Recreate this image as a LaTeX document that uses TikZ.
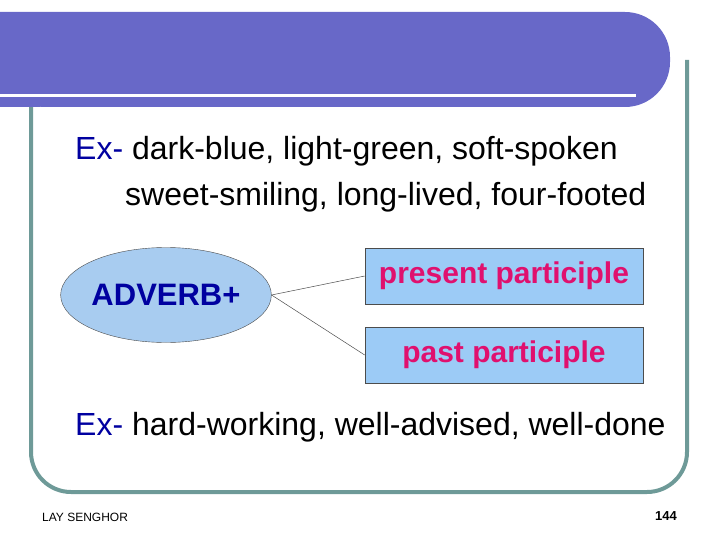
\documentclass[tikz,border=0pt]{standalone}
\usepackage{fontspec}
\usetikzlibrary{shapes.geometric}
\setmainfont{Liberation Sans}
\begin{document}
\begin{tikzpicture}[x=1pt,y=-1pt,
  box/.style={draw=black!70,fill=lb,line width=0.6pt,minimum width=278pt,minimum height=56pt,inner sep=0},
  pt/.style={text=pk,font=\fontsize{30}{32}\selectfont\bfseries},
  body/.style={anchor=west,inner sep=0,font=\fontsize{32}{36}\selectfont}]
\definecolor{bn}{HTML}{6868C8}
\definecolor{bd}{HTML}{6E9A98}
\definecolor{lb}{HTML}{9CCBF6}
\definecolor{el}{HTML}{A8CCF0}
\definecolor{pk}{HTML}{E0106E}
\definecolor{ex}{HTML}{0000A0}
\useasboundingbox (0,0) rectangle (720,540);
\draw[bd,line width=4pt,rounded corners=40pt] (31,60) -- (31,492) -- (687,492) -- (687,60);
\fill[bn,rounded corners=45pt] (0,12) -- (670,12) -- (670,107) -- (0,107) [sharp corners] -- cycle;
\fill[bn] (0,12) rectangle (40,107);
\draw[white,line width=3pt] (0,96) -- (636,96);
\node[body] (t1) at (75,151) {\textcolor{ex}{Ex-} dark-blue, light-green, soft-spoken};
\node[body] (t2) at (125,197) {sweet-smiling, long-lived, four-footed};
\node[draw=black!70,fill=el,ellipse,minimum width=210pt,minimum height=95pt,inner sep=0,font=\fontsize{31}{34}\selectfont\bfseries,text=ex] (a) at (166,295) {ADVERB+};
\node[box] (b1) at (504,276) {};
\node[pt] at (b1) {present participle};
\node[box] (b2) at (504,355) {};
\node[pt] at (b2) {past participle};
\draw[black!70,line width=0.5pt] (a.east) -- (b1.west);
\draw[black!70,line width=0.5pt] (a.east) -- (b2.west);
\node[body] (t3) at (75,427) {\textcolor{ex}{Ex-} hard-working, well-advised, well-done};
\node[anchor=west,inner sep=0,font=\fontsize{12}{13}\selectfont] (f1) at (42,517) {LAY SENGHOR};
\node[anchor=east,inner sep=0,font=\fontsize{13}{14}\selectfont\bfseries] (f2) at (677,516) {144};
\end{tikzpicture}
\end{document}
